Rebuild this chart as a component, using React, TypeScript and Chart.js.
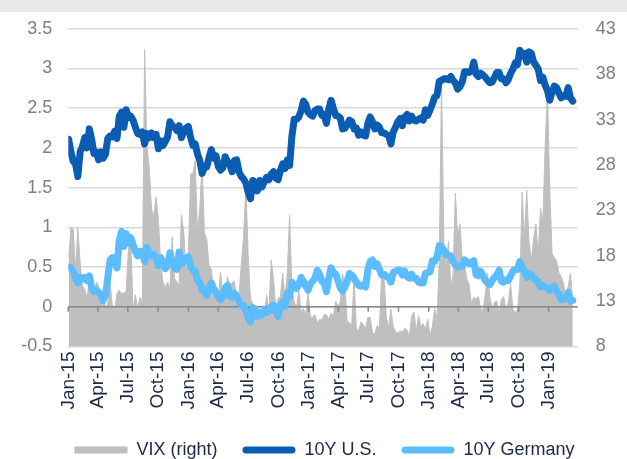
import React, { useEffect, useRef } from 'react';
import { Chart, registerables } from 'chart.js';

Chart.register(...registerables);

// Weekly observations (Fridays) starting on this date
const firstObservation = '2015-01-02';
const axisStart = '2015-01-01';
const axisEnd = '2019-03-30';

const tickDates = [
  '2015-01-01', '2015-04-01', '2015-07-01', '2015-10-01',
  '2016-01-01', '2016-04-01', '2016-07-01', '2016-10-01',
  '2017-01-01', '2017-04-01', '2017-07-01', '2017-10-01',
  '2018-01-01', '2018-04-01', '2018-07-01', '2018-10-01',
  '2019-01-01',
];
const tickLabels = [
  'Jan-15', 'Apr-15', 'Jul-15', 'Oct-15',
  'Jan-16', 'Apr-16', 'Jul-16', 'Oct-16',
  'Jan-17', 'Apr-17', 'Jul-17', 'Oct-17',
  'Jan-18', 'Apr-18', 'Jul-18', 'Oct-18',
  'Jan-19',
];

const seriesNames = ['VIX (right)', '10Y U.S.', '10Y Germany'];

const us10y = [
  // 2015
  2.11, 1.95, 1.83, 1.80, 1.64, 1.95, 2.02, 2.13, 2.00, 2.24, 2.11, 1.93, 1.95,
  1.85, 1.95, 1.87, 1.92, 2.12, 2.15, 2.14, 2.21, 2.12, 2.40, 2.45, 2.26, 2.48,
  2.38, 2.40, 2.35, 2.26, 2.18, 2.17, 2.20, 2.05, 2.18, 2.13, 2.19, 2.13, 2.17,
  1.99, 2.09, 2.03, 2.08, 2.14, 2.33, 2.28, 2.26, 2.22, 2.28, 2.13, 2.20, 2.25,
  // 2016
  2.27, 2.13, 2.03, 2.05, 1.92, 1.84, 1.68, 1.76, 1.76, 1.88, 1.98, 1.87, 1.90,
  1.77, 1.72, 1.75, 1.89, 1.83, 1.79, 1.70, 1.84, 1.85, 1.70, 1.64, 1.61, 1.56,
  1.44, 1.36, 1.59, 1.57, 1.46, 1.59, 1.51, 1.58, 1.63, 1.60, 1.67, 1.70, 1.62,
  1.60, 1.72, 1.80, 1.74, 1.85, 1.78, 2.15, 2.36, 2.36, 2.39, 2.47, 2.59, 2.55, 2.45,
  // 2017
  2.42, 2.40, 2.47, 2.49, 2.49, 2.41, 2.42, 2.31, 2.49, 2.60, 2.50, 2.41, 2.40,
  2.38, 2.24, 2.25, 2.29, 2.35, 2.33, 2.24, 2.25, 2.16, 2.20, 2.16, 2.15, 2.31,
  2.39, 2.33, 2.24, 2.29, 2.26, 2.19, 2.19, 2.17, 2.16, 2.05, 2.20, 2.26, 2.33,
  2.37, 2.28, 2.39, 2.42, 2.34, 2.40, 2.35, 2.34, 2.36, 2.38, 2.35, 2.48, 2.41,
  // 2018
  2.48, 2.55, 2.64, 2.66, 2.84, 2.85, 2.87, 2.87, 2.86, 2.90, 2.85, 2.82, 2.74,
  2.77, 2.83, 2.96, 2.96, 2.95, 2.97, 3.08, 2.93, 2.90, 2.94, 2.92, 2.89, 2.85,
  2.82, 2.83, 2.89, 2.95, 2.95, 2.87, 2.87, 2.82, 2.86, 2.94, 2.99, 3.07, 3.05,
  3.23, 3.16, 3.19, 3.08, 3.21, 3.19, 3.08, 3.04, 2.99, 2.85, 2.89, 2.79, 2.72,
  // 2019
  2.60, 2.70, 2.78, 2.76, 2.69, 2.63, 2.66, 2.65, 2.76, 2.63, 2.59,
];

const de10y = [
  // 2015
  0.50, 0.49, 0.45, 0.36, 0.30, 0.37, 0.35, 0.37, 0.33, 0.39, 0.24, 0.19, 0.21,
  0.18, 0.16, 0.08, 0.15, 0.37, 0.59, 0.62, 0.61, 0.49, 0.84, 0.95, 0.76, 0.92,
  0.80, 0.87, 0.78, 0.70, 0.64, 0.70, 0.69, 0.57, 0.75, 0.67, 0.64, 0.66, 0.62,
  0.52, 0.62, 0.55, 0.48, 0.52, 0.68, 0.56, 0.48, 0.47, 0.69, 0.54, 0.56, 0.61,
  // 2016
  0.63, 0.51, 0.46, 0.45, 0.33, 0.30, 0.21, 0.20, 0.14, 0.24, 0.30, 0.23, 0.19,
  0.12, 0.09, 0.13, 0.24, 0.27, 0.13, 0.12, 0.17, 0.14, 0.07, 0.02, 0.02, -0.05,
  -0.13, -0.19, -0.01, -0.03, -0.12, -0.07, -0.10, -0.03, -0.07, -0.06, 0.00, 0.02, -0.07,
  -0.12, 0.02, 0.06, 0.01, 0.17, 0.13, 0.31, 0.27, 0.23, 0.28, 0.37, 0.32, 0.26, 0.21,
  // 2017
  0.29, 0.32, 0.36, 0.46, 0.41, 0.32, 0.30, 0.19, 0.36, 0.49, 0.43, 0.41, 0.33,
  0.24, 0.20, 0.25, 0.32, 0.42, 0.40, 0.36, 0.31, 0.27, 0.26, 0.28, 0.25, 0.47,
  0.57, 0.59, 0.51, 0.54, 0.47, 0.40, 0.41, 0.38, 0.37, 0.31, 0.43, 0.45, 0.46,
  0.46, 0.40, 0.45, 0.38, 0.36, 0.41, 0.36, 0.36, 0.31, 0.30, 0.30, 0.42, 0.43,
  // 2018
  0.44, 0.58, 0.57, 0.63, 0.77, 0.75, 0.71, 0.65, 0.65, 0.64, 0.57, 0.53, 0.50,
  0.52, 0.51, 0.59, 0.57, 0.54, 0.56, 0.58, 0.40, 0.39, 0.45, 0.39, 0.33, 0.30,
  0.28, 0.33, 0.37, 0.40, 0.46, 0.32, 0.31, 0.34, 0.33, 0.39, 0.45, 0.47, 0.47,
  0.57, 0.50, 0.44, 0.37, 0.42, 0.41, 0.36, 0.34, 0.31, 0.25, 0.27, 0.24, 0.24,
  // 2019
  0.21, 0.24, 0.26, 0.19, 0.16, 0.09, 0.10, 0.10, 0.18, 0.07, 0.08,
];

const vix = [
  // 2015
  17.8, 21.1, 20.9, 16.4, 21.0, 17.3, 14.7, 14.3, 13.3, 15.2, 16.0, 13.0, 15.1,
  14.7, 12.6, 13.9, 12.3, 12.7, 15.1, 12.4, 12.1, 13.8, 14.2, 13.8, 13.9, 14.0,
  18.9, 19.7, 11.9, 13.7, 12.1, 13.4, 12.8, 40.7, 30.0, 27.8, 23.2, 22.3, 24.5,
  22.0, 17.1, 15.1, 14.5, 15.1, 14.3, 20.1, 15.5, 15.1, 14.8, 22.5, 20.7, 16.0,
  // 2016
  18.2, 27.0, 27.0, 28.5, 20.2, 23.4, 28.1, 20.5, 19.8, 16.9, 16.5, 14.0, 13.1,
  13.1, 16.2, 13.6, 13.2, 15.7, 14.7, 15.0, 15.2, 13.1, 13.5, 17.0, 20.1, 25.8,
  18.0, 13.2, 12.7, 12.0, 11.9, 11.4, 11.6, 11.3, 13.7, 11.9, 17.5, 15.4, 12.3,
  13.3, 13.5, 16.1, 13.3, 16.2, 22.5, 14.2, 12.9, 12.3, 14.1, 11.8, 12.2, 11.4, 14.0,
  // 2017
  11.3, 11.2, 11.5, 10.6, 11.0, 10.9, 11.5, 11.5, 11.0, 11.7, 11.3, 13.0, 12.4,
  12.9, 16.0, 14.6, 10.8, 10.6, 10.4, 15.6, 9.8, 9.8, 10.7, 10.4, 10.0, 11.2,
  11.2, 9.5, 9.4, 10.3, 10.0, 16.0, 15.6, 11.3, 10.1, 12.1, 10.2, 9.6, 9.5,
  9.7, 9.6, 10.0, 9.8, 9.1, 11.3, 11.8, 9.7, 11.4, 10.2, 10.5, 9.9, 11.0,
  // 2018
  9.2, 10.2, 12.2, 11.1, 17.3, 37.3, 19.5, 16.5, 19.6, 14.6, 15.8, 24.9, 20.0,
  21.5, 17.4, 16.9, 15.4, 14.8, 12.7, 13.4, 13.2, 13.5, 12.2, 12.0, 13.8, 16.1,
  13.4, 12.2, 12.9, 13.0, 11.6, 13.2, 13.5, 12.0, 12.9, 14.9, 12.1, 11.7, 12.1,
  14.8, 25.0, 19.9, 25.2, 19.5, 17.4, 19.9, 21.5, 18.1, 23.2, 21.6, 30.1, 36.1,
  // 2019
  25.5, 18.2, 17.8, 17.4, 16.1, 15.7, 14.9, 13.5, 14.6, 16.1, 12.9,
];

const DAY_MS = 86400000;
const dayOf = (iso: string) => (Date.parse(iso) - Date.parse(axisStart)) / DAY_MS;
const obsDay = (i: number) => dayOf(firstObservation) + 7 * i;
const toPoints = (arr: number[]) => arr.map((v, i) => ({ x: obsDay(i), y: v }));

const FONT = "'Liberation Sans', Arial, Helvetica, sans-serif";
const GRAY = '#bfbfbf';
const US_BLUE = '#0b5cb3';
const DE_BLUE = '#5bbcff';
const NAVY = '#1c2a48';

const topBar = {
  id: 'topBar',
  beforeDraw(chart: any) {
    const { ctx, width } = chart;
    ctx.save();
    ctx.fillStyle = '#e8e8e8';
    ctx.fillRect(0, 0, width, 12);
    ctx.restore();
  },
};

const zeroAxis = {
  id: 'zeroAxis',
  afterDatasetDraw(chart: any, args: any) {
    if (args.index !== 0) return;
    const { ctx, chartArea, scales } = chart;
    const y = scales.y.getPixelForValue(0);
    ctx.save();
    ctx.strokeStyle = '#868686';
    ctx.lineWidth = 1.5;
    ctx.beginPath();
    ctx.moveTo(chartArea.left, y);
    ctx.lineTo(chartArea.right, y);
    scales.x.ticks.forEach((t: any) => {
      const x = scales.x.getPixelForValue(t.value);
      ctx.moveTo(x, y);
      ctx.lineTo(x, y + 5);
    });
    ctx.stroke();
    ctx.restore();
  },
};

export default function App() {
  const ref = useRef<HTMLCanvasElement | null>(null);

  useEffect(() => {
    document.body.style.margin = '0';
    const canvas = ref.current;
    if (!canvas) return;
    const colors = [GRAY, US_BLUE, DE_BLUE];
    const chart = new Chart(canvas, {
      type: 'line',
      data: {
        datasets: [
          {
            label: seriesNames[0],
            data: toPoints(vix),
            yAxisID: 'y1',
            backgroundColor: GRAY,
            borderColor: GRAY,
            borderWidth: 1,
            fill: 'start',
            pointRadius: 0,
            tension: 0,
            order: 3,
          },
          {
            label: seriesNames[1],
            data: toPoints(us10y),
            yAxisID: 'y',
            borderColor: US_BLUE,
            backgroundColor: US_BLUE,
            borderWidth: 7,
            borderJoinStyle: 'round',
            borderCapStyle: 'round',
            fill: false,
            pointRadius: 0,
            tension: 0,
            order: 1,
          },
          {
            label: seriesNames[2],
            data: toPoints(de10y),
            yAxisID: 'y',
            borderColor: DE_BLUE,
            backgroundColor: DE_BLUE,
            borderWidth: 7,
            borderJoinStyle: 'round',
            borderCapStyle: 'round',
            fill: false,
            pointRadius: 0,
            tension: 0,
            order: 2,
          },
        ],
      } as any,
      options: {
        responsive: false,
        animation: false,
        events: [],
        layout: { padding: { left: 22, right: 0, top: 24.5, bottom: -10 } },
        plugins: {
          tooltip: { enabled: false },
          legend: {
            position: 'bottom',
            labels: {
              boxWidth: 53,
              boxHeight: 7,
              padding: 25,
              color: NAVY,
              font: { family: FONT, size: 18 },
              useBorderRadius: true,
              generateLabels: () =>
                seriesNames.map((text, i) => ({
                  text,
                  fillStyle: colors[i],
                  strokeStyle: colors[i],
                  lineWidth: 0,
                  hidden: false,
                  datasetIndex: i,
                  fontColor: NAVY,
                  borderRadius: i === 0 ? 0 : 3.5,
                })),
            },
          },
        },
        scales: {
          x: {
            type: 'linear',
            min: 0,
            max: dayOf(axisEnd),
            grid: { display: false, drawTicks: false },
            border: { display: false },
            afterBuildTicks: (scale: any) => {
              scale.ticks = tickDates.map((d) => ({ value: dayOf(d) }));
            },
            afterFit: (scale: any) => {
              scale.height = 69.5;
            },
            ticks: {
              autoSkip: false,
              minRotation: 90,
              maxRotation: 90,
              padding: 5,
              color: NAVY,
              font: { family: FONT, size: 19 },
              callback: (_v: any, i: number) => tickLabels[i],
            },
          },
          y: {
            position: 'left',
            min: -0.5,
            max: 3.5,
            grid: { color: '#d9d9d9', lineWidth: 1.5, drawTicks: false },
            border: { display: false },
            afterFit: (scale: any) => {
              scale.width = 46.3;
            },
            ticks: {
              stepSize: 0.5,
              padding: 16,
              color: '#7f7f7f',
              font: { family: FONT, size: 18 },
              callback: (v: any) => String(v),
            },
          },
          y1: {
            position: 'right',
            min: 8,
            max: 43,
            grid: { display: false, drawTicks: false },
            border: { display: false },
            afterFit: (scale: any) => {
              scale.width = 49.3;
            },
            ticks: {
              stepSize: 5,
              padding: 18,
              color: '#7f7f7f',
              font: { family: FONT, size: 18 },
              callback: (v: any) => String(v),
            },
          },
        },
      } as any,
      plugins: [topBar, zeroAxis],
    });
    return () => chart.destroy();
  }, []);

  return (
    <canvas
      ref={ref}
      width={627}
      height={459}
      style={{ display: 'block', width: 627, height: 459 }}
    />
  );
}
